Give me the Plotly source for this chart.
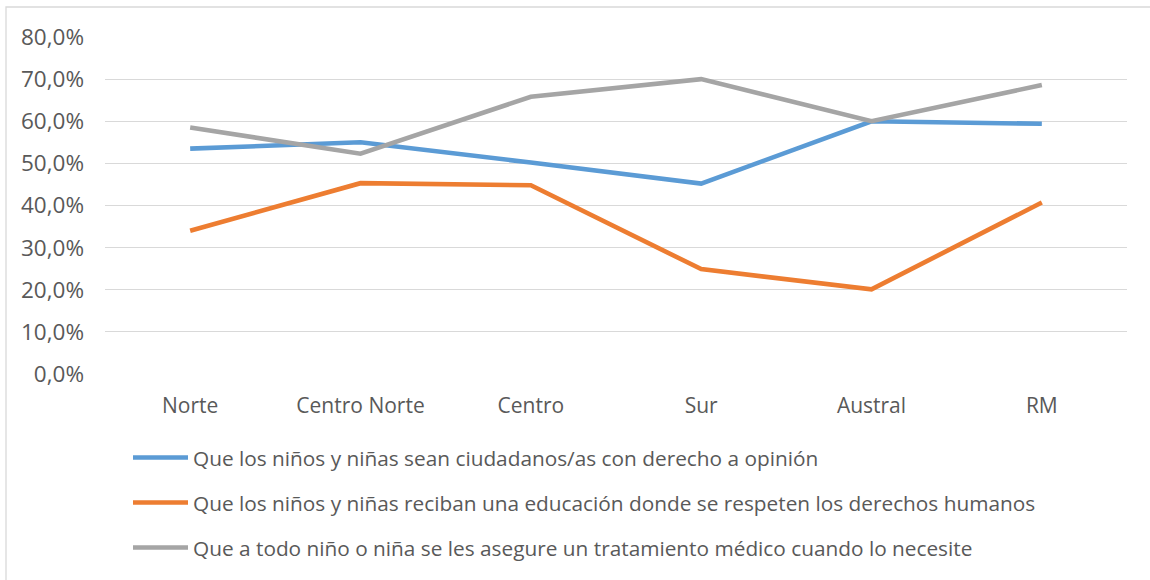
import plotly.graph_objects as go

# Regions (x-axis categories)
regiones = ["Norte", "Centro Norte", "Centro", "Sur", "Austral", "RM"]

# Share of respondents per priority, by region (fractions)
ciudadanos = [0.535, 0.550, 0.502, 0.452, 0.600, 0.594]
educacion = [0.340, 0.453, 0.448, 0.249, 0.201, 0.407]
salud = [0.585, 0.523, 0.658, 0.700, 0.600, 0.686]

nombres = [
    "Que los niños y niñas sean ciudadanos/as con derecho a opinión",
    "Que los niños y niñas reciban una educación donde se respeten los derechos humanos",
    "Que a todo niño o niña se les asegure un tratamiento médico cuando lo necesite",
]
colores = ["#5B9BD5", "#ED7D31", "#A5A5A5"]
series = [ciudadanos, educacion, salud]
leyendas = ["legend", "legend2", "legend3"]

FONT = "Open Sans"
TXT = "#595959"

fig = go.Figure()
for nombre, valores, color, lg in zip(nombres, series, colores, leyendas):
    fig.add_trace(go.Scatter(
        x=regiones, y=valores, name=nombre, mode="lines",
        line=dict(color=color, width=4.6),
        legend=lg, showlegend=True,
    ))

# Plot-area pixel geometry helpers for legend placement
L, R, T, B = 105, 1127, 37, 374


def py(y):
    return (B - y) / (B - T)


def px(x):
    return (x - L) / (R - L)


legend_common = dict(
    font=dict(family=FONT, size=20.8, color=TXT),
    bgcolor="rgba(0,0,0,0)",
    itemwidth=55,
    xanchor="left", yanchor="middle",
    tracegroupgap=0,
    visible=True,
)

fig.update_layout(
    width=1150, height=580,
    margin=dict(l=L, r=1150 - R, t=T, b=580 - B),
    paper_bgcolor="white", plot_bgcolor="white",
    separators=", ",
    showlegend=True,
    font=dict(family=FONT, size=21, color=TXT),
    xaxis=dict(
        type="category", range=[-0.5, 5.5],
        showgrid=False, zeroline=False, showline=False,
        ticks="", ticklabelstandoff=17,
        tickfont=dict(family=FONT, size=21, color=TXT),
        fixedrange=True,
    ),
    yaxis=dict(
        range=[0, 0.8], dtick=0.1, tickformat=".1%",
        showgrid=True, gridcolor="#D9D9D9", gridwidth=1.4,
        zeroline=False, showline=False,
        ticks="", ticklabelstandoff=20,
        tickfont=dict(family=FONT, size=22.5, color=TXT),
        fixedrange=True,
    ),
    legend=dict(x=px(128), y=py(458), **legend_common),
    legend2=dict(x=px(128), y=py(503), **legend_common),
    legend3=dict(x=px(128), y=py(548), **legend_common),
    shapes=[dict(
        type="rect", xref="paper", yref="paper",
        x0=px(6), x1=px(1153), y0=py(583), y1=py(7),
        line=dict(color="#D9D9D9", width=1.3), fillcolor="rgba(0,0,0,0)",
        layer="below",
    )],
)

fig.write_html("out.html")
